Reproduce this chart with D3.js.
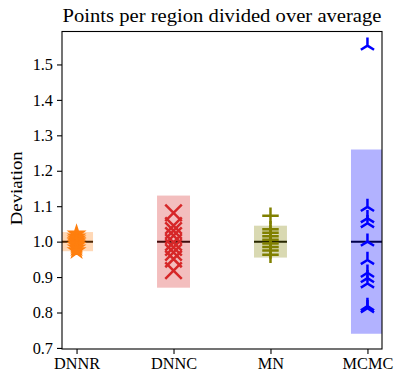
<!DOCTYPE html>
<html>
<head>
<meta charset="utf-8">
<script src="https://cdn.jsdelivr.net/npm/d3@7"></script>
<style>
  html, body { margin: 0; padding: 0; background: #fff; }
  svg { display: block; }
  text { font-family: "Liberation Serif", "DejaVu Serif", serif; fill: #000; }
</style>
</head>
<body>
<svg id="chart" width="395" height="373"></svg>
<script>
// Per-region point counts divided by the average, per method
const categories = ["DNNR", "DNNC", "MN", "MCMC"];
const means = [1.0, 1.0, 1.0, 1.0];
const spreads = [0.027, 0.13, 0.045, 0.26];
const dnnrPoints = [1.022, 1.014, 1.008, 1.003, 1.0, 0.995, 0.99, 0.983, 0.975];
const dnncPoints = [1.081, 1.045, 1.031, 1.017, 0.998, 0.984, 0.97, 0.951, 0.918];
const mnPoints = [1.073, 1.035, 1.025, 1.015, 1.005, 0.995, 0.985, 0.975, 0.963];
const mcmcPoints = [1.553, 1.098, 1.066, 1.052, 1.0, 0.948, 0.912, 0.897, 0.882, 0.818, 0.812];
const yTicks = [0.7, 0.8, 0.9, 1.0, 1.1, 1.2, 1.3, 1.4, 1.5];

const pointSets = [dnnrPoints, dnncPoints, mnPoints, mcmcPoints];
const palette = ["#ff7f0e", "#d62728", "#808000", "#0000ff"];

// Marker shapes: size is the square of the marker's full extent in px
const starShape = {
  draw(ctx, size) {
    const r = Math.sqrt(size) / 2, ri = r * 0.381966;
    for (let i = 0; i < 10; i++) {
      const a = -Math.PI / 2 + i * Math.PI / 5;
      const rr = i % 2 ? ri : r;
      const px = rr * Math.cos(a), py = rr * Math.sin(a);
      if (i === 0) ctx.moveTo(px, py); else ctx.lineTo(px, py);
    }
    ctx.closePath();
  }
};
const crossShape = {
  draw(ctx, size) {
    const r = Math.sqrt(size) / 2;
    ctx.moveTo(-r, -r); ctx.lineTo(r, r);
    ctx.moveTo(-r, r); ctx.lineTo(r, -r);
  }
};
const plusShape = {
  draw(ctx, size) {
    const r = Math.sqrt(size) / 2;
    ctx.moveTo(-r, 0); ctx.lineTo(r, 0);
    ctx.moveTo(0, -r); ctx.lineTo(0, r);
  }
};
const triUpShape = {
  draw(ctx, size) {
    const r = Math.sqrt(size) / 2;
    ctx.moveTo(0, 0); ctx.lineTo(0, -r);
    ctx.moveTo(0, 0); ctx.lineTo(0.8 * r, 0.5 * r);
    ctx.moveTo(0, 0); ctx.lineTo(-0.8 * r, 0.5 * r);
  }
};
const shapes = [starShape, crossShape, plusShape, triUpShape];
const markerPx = 16.5;

const plot = { left: 62, right: 382, top: 31.5, bottom: 349 };
const svg = d3.select("#chart");

const x = d3.scaleLinear().domain([-0.15, 3.15]).range([plot.left, plot.right]);
const y = d3.scaleLinear().domain([0.697, 1.593]).range([plot.bottom, plot.top]);
const barWidth = 0.34;

svg.append("defs").append("clipPath").attr("id", "plot-clip")
  .append("rect")
  .attr("x", plot.left).attr("y", plot.top)
  .attr("width", plot.right - plot.left).attr("height", plot.bottom - plot.top);

const body = svg.append("g").attr("clip-path", "url(#plot-clip)");

// Mean lines sit underneath the translucent spread bands
body.selectAll("line.mean").data(categories).join("line")
  .attr("class", "mean")
  .attr("x1", (d, i) => x(i - barWidth / 2))
  .attr("x2", (d, i) => x(i + barWidth / 2))
  .attr("y1", (d, i) => y(means[i]))
  .attr("y2", (d, i) => y(means[i]))
  .attr("stroke", "#000").attr("stroke-width", 2);

body.selectAll("rect.band").data(categories).join("rect")
  .attr("class", "band")
  .attr("x", (d, i) => x(i - barWidth / 2))
  .attr("width", (d, i) => x(i + barWidth / 2) - x(i - barWidth / 2))
  .attr("y", (d, i) => y(means[i] + spreads[i]))
  .attr("height", (d, i) => y(means[i] - spreads[i]) - y(means[i] + spreads[i]))
  .attr("fill", (d, i) => palette[i])
  .attr("fill-opacity", 0.3);

// Individual region markers
pointSets.forEach((vals, i) => {
  const sym = d3.symbol().type(shapes[i]).size(markerPx * markerPx);
  const filled = i === 0;
  body.append("g").selectAll("path").data(vals).join("path")
    .attr("transform", v => `translate(${x(i)},${y(v)})`)
    .attr("d", sym)
    .attr("fill", filled ? palette[i] : "none")
    .attr("stroke", palette[i])
    .attr("stroke-width", filled ? 1.4 : 2.5)
    .attr("stroke-linejoin", "miter");
});

// Axes
const yAxis = svg.append("g")
  .attr("transform", `translate(${plot.left},0)`)
  .call(d3.axisLeft(y).tickValues(yTicks).tickFormat(d3.format(".1f")).tickSize(5).tickPadding(4));
const xAxis = svg.append("g")
  .attr("transform", `translate(0,${plot.bottom})`)
  .call(d3.axisBottom(x).tickValues(d3.range(categories.length)).tickFormat(i => categories[i]).tickSize(5).tickPadding(4));

[yAxis, xAxis].forEach(g => {
  g.select(".domain").remove();
  g.selectAll(".tick line").attr("stroke", "#000").attr("stroke-width", 1.1);
  g.selectAll(".tick text").style("font-family", "'Liberation Serif', serif").style("font-size", "16.3px").attr("fill", "#000");
});
xAxis.selectAll(".tick text").attr("y", 20).attr("dy", null);

svg.append("rect")
  .attr("x", plot.left).attr("y", plot.top)
  .attr("width", plot.right - plot.left).attr("height", plot.bottom - plot.top)
  .attr("fill", "none").attr("stroke", "#000").attr("stroke-width", 1.1);

// Title and axis label
svg.append("text")
  .attr("x", (plot.left + plot.right) / 2).attr("y", 22)
  .attr("text-anchor", "middle")
  .style("font-size", "19px")
  .attr("textLength", 319).attr("lengthAdjust", "spacingAndGlyphs")
  .text("Points per region divided over average");

svg.append("text")
  .attr("transform", `translate(21.5,${(plot.top + plot.bottom) / 2 - 2}) rotate(-90)`)
  .attr("text-anchor", "middle")
  .style("font-size", "17.5px")
  .attr("textLength", 74).attr("lengthAdjust", "spacingAndGlyphs")
  .text("Deviation");
</script>
</body>
</html>
